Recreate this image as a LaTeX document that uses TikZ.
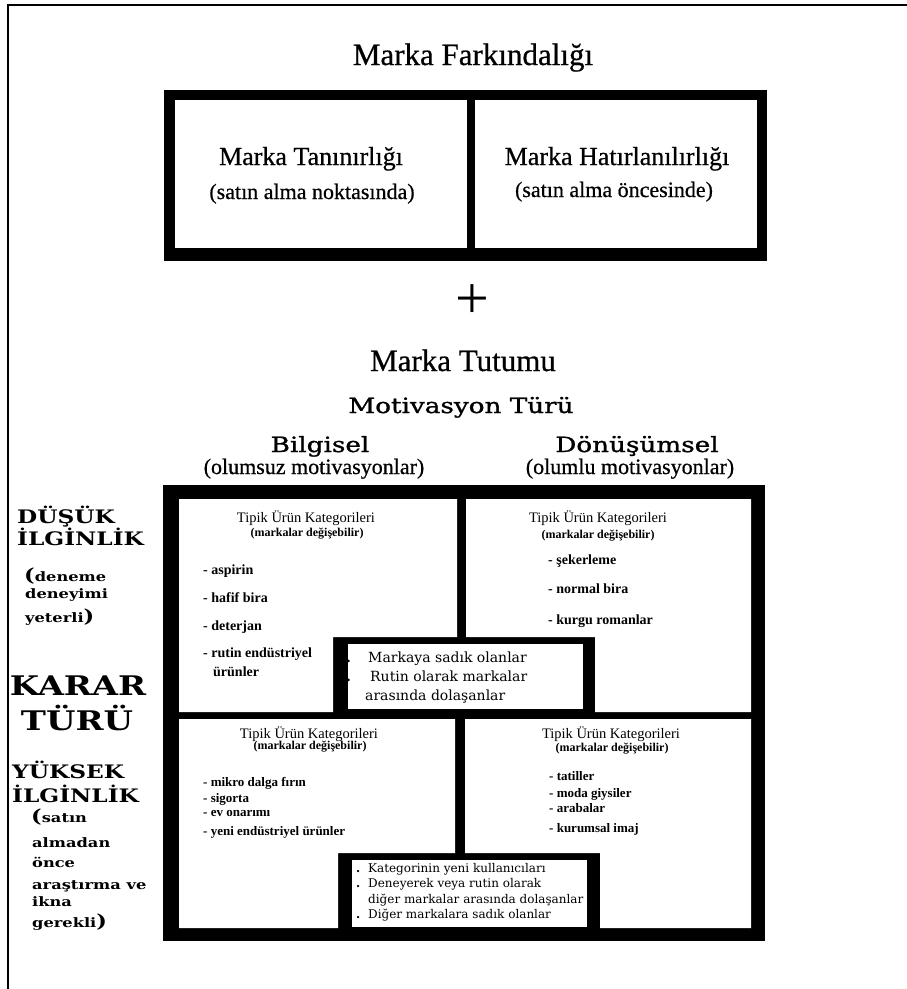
\documentclass[tikz,border=0pt]{standalone}
\usepackage{fontspec}
\setmainfont{Liberation Serif}
\newfontfamily\koyufont[FakeBold=0.6]{Liberation Serif}
\newfontfamily\genisfont{DejaVu Serif}
\newfontfamily\orta[FakeStretch=1.25,FakeBold=1.2]{DejaVu Serif}
\newfontfamily\etiketfont[FakeStretch=1.25]{DejaVu Serif}
\newcommand{\fsz}[1]{\fontsize{#1}{#1}\selectfont}
\tikzset{
  baslik/.style={font=\koyufont\fsz{31}, inner sep=0pt, anchor=base},
  altbaslik/.style={font=\koyufont\fsz{22}, inner sep=0pt, anchor=base},
  genis/.style={font=\orta\fsz{21}, inner sep=0pt, anchor=base},
  etiket/.style={font=\etiketfont\bfseries\fsz{18.6}, inner sep=0pt, anchor=base west},
  etiketk/.style={font=\etiketfont\bfseries\fsz{13}, inner sep=0pt, anchor=base west},
  kat/.style={font=\fsz{14.5}, inner sep=0pt, anchor=base},
  degis/.style={font=\bfseries\fsz{12}, inner sep=0pt, anchor=base},
  urun/.style={font=\bfseries\fsz{14}, inner sep=0pt, anchor=base west},
  kutuyazi/.style={font=\genisfont\fsz{14}, inner sep=0pt, anchor=base west},
}
\begin{document}
\begin{tikzpicture}[x=1pt,y=-1pt]
    \useasboundingbox (0,0) rectangle (907,989);
    % dis cerceve (ust ve sol)
    \draw[line width=2.5pt] (907,5) -- (8,5) -- (8,989);
    % ust kutu
    \fill[black] (164,90) rectangle (767,261);
    \fill[white] (175,100) rectangle (467,248);
    \fill[white] (475,100) rectangle (757,248);
    % alt buyuk kutu
    \fill[black] (163,485) rectangle (765,941);
    \fill[white] (179,499) -- (457,499) -- (457,637) -- (333,637) -- (333,712) -- (179,712) -- cycle;
    \fill[white] (466,499) -- (751,499) -- (751,712) -- (595,712) -- (595,637) -- (466,637) -- cycle;
    \fill[white] (348,644) rectangle (583,709);
    \fill[white] (179,719) -- (455,719) -- (455,853) -- (338,853) -- (338,928) -- (179,928) -- cycle;
    \fill[white] (465,719) -- (751,719) -- (751,928) -- (600,928) -- (600,853) -- (465,853) -- cycle;
    \fill[white] (352,860) rectangle (587,927);
    % basliklar
    \node[baslik] (farkindalik) at (473,65) {Marka Farkındalığı};
    \node[baslik,font=\koyufont\fsz{26}] (tanin) at (311,165) {Marka Tanınırlığı};
    \node[altbaslik] (tanins) at (312,199) {(satın alma noktasında)};
    \node[baslik,font=\koyufont\fsz{26}] (hatir) at (617,165) {Marka Hatırlanılırlığı};
    \node[altbaslik] (hatirs) at (614,197) {(satın alma öncesinde)};
    \node[baslik,font=\fsz{60}] (arti) at (472,318) {+};
    \node[baslik] (tutum) at (463,371) {Marka Tutumu};
    \node[genis] (motiv) at (461,413) {Motivasyon Türü};
    \node[genis] (bilgi) at (320,452) {Bilgisel};
    \node[genis] (donus) at (637,452) {Dönüşümsel};
    \node[altbaslik] (bilgis) at (314,474) {(olumsuz motivasyonlar)};
    \node[altbaslik] (donuss) at (630,474) {(olumlu motivasyonlar)};
    % sol etiketler
    \node[etiket] (dusuk) at (17,523) {DÜŞÜK};
    \node[etiket] (ilgi1) at (17,545) {İLGİNLİK};
    \node[etiketk] (den1) at (24,581) {{\fsz{18}(}deneme};
    \node[etiketk] (den2) at (25,598) {deneyimi};
    \node[etiketk] (den3) at (25,622) {yeterli{\fsz{18})}};
    \node[etiket,font=\etiketfont\bfseries\fsz{27},anchor=base] (karar) at (78,695) {KARAR};
    \node[etiket,font=\etiketfont\bfseries\fsz{27},anchor=base] (turu) at (77,730) {TÜRÜ};
    \node[etiket] (yuksek) at (12,778) {YÜKSEK};
    \node[etiket] (ilgi2) at (12,802) {İLGİNLİK};
    \node[etiketk] (sat1) at (31,822) {{\fsz{18}(}satın};
    \node[etiketk] (sat2) at (32,847) {almadan};
    \node[etiketk] (sat3) at (32,867) {önce};
    \node[etiketk] (sat4) at (32,889) {araştırma ve};
    \node[etiketk] (sat5) at (32,906) {ikna};
    \node[etiketk] (sat6) at (32,927) {gerekli{\fsz{18})}};
    % sol ust hucre
    \node[kat] (kat1) at (306,522) {Tipik Ürün Kategorileri};
    \node[degis] (deg1) at (307,536) {(markalar değişebilir)};
    \node[urun] (u11) at (203,574) {- aspirin};
    \node[urun] (u12) at (203,602) {- hafif bira};
    \node[urun] (u13) at (203,630) {- deterjan};
    \node[urun] (u14) at (203,657) {- rutin endüstriyel};
    \node[urun] (u15) at (213,676) {ürünler};
    % sag ust hucre
    \node[kat] (kat2) at (598,522) {Tipik Ürün Kategorileri};
    \node[degis] (deg2) at (598,538) {(markalar değişebilir)};
    \node[urun] (u21) at (548,564) {- şekerleme};
    \node[urun] (u22) at (548,593) {- normal bira};
    \node[urun] (u23) at (548,624) {- kurgu romanlar};
    % ust ara kutu
    \node[kutuyazi,font=\genisfont\bfseries\fsz{14}] (m1) at (346,662) {.};
    \node[kutuyazi] (k1) at (368,662) {Markaya sadık olanlar};
    \node[kutuyazi,font=\genisfont\bfseries\fsz{14}] (m2) at (346,681) {.};
    \node[kutuyazi] (k2) at (370,681) {Rutin olarak markalar};
    \node[kutuyazi] (k3) at (365,700) {arasında dolaşanlar};
    % sol alt hucre
    \node[kat] (kat3) at (309,738) {Tipik Ürün Kategorileri};
    \node[degis] (deg3) at (310,749) {(markalar değişebilir)};
    \node[urun,font=\bfseries\fsz{13}] (u31) at (203,786) {- mikro dalga fırın};
    \node[urun,font=\bfseries\fsz{13}] (u32) at (203,802) {- sigorta};
    \node[urun,font=\bfseries\fsz{13}] (u33) at (203,816) {- ev onarımı};
    \node[urun,font=\bfseries\fsz{13}] (u34) at (203,835) {- yeni endüstriyel ürünler};
    % sag alt hucre
    \node[kat] (kat4) at (611,738) {Tipik Ürün Kategorileri};
    \node[degis] (deg4) at (612,751) {(markalar değişebilir)};
    \node[urun,font=\bfseries\fsz{13}] (u41) at (549,780) {- tatiller};
    \node[urun,font=\bfseries\fsz{13}] (u42) at (549,797) {- moda giysiler};
    \node[urun,font=\bfseries\fsz{13}] (u43) at (549,812) {- arabalar};
    \node[urun,font=\bfseries\fsz{13}] (u44) at (549,832) {- kurumsal imaj};
    % alt ara kutu
    \node[kutuyazi,font=\genisfont\bfseries\fsz{12}] (n1) at (356,872) {.};
    \node[kutuyazi,font=\genisfont\fsz{12}] (l1) at (368,872) {Kategorinin yeni kullanıcıları};
    \node[kutuyazi,font=\genisfont\bfseries\fsz{12}] (n2) at (356,887) {.};
    \node[kutuyazi,font=\genisfont\fsz{12}] (l2) at (368,887) {Deneyerek veya rutin olarak};
    \node[kutuyazi,font=\genisfont\fsz{12}] (l3) at (368,903) {diğer markalar arasında dolaşanlar};
    \node[kutuyazi,font=\genisfont\bfseries\fsz{12}] (n3) at (356,918) {.};
    \node[kutuyazi,font=\genisfont\fsz{12}] (l4) at (368,918) {Diğer markalara sadık olanlar};
\end{tikzpicture}
\end{document}
